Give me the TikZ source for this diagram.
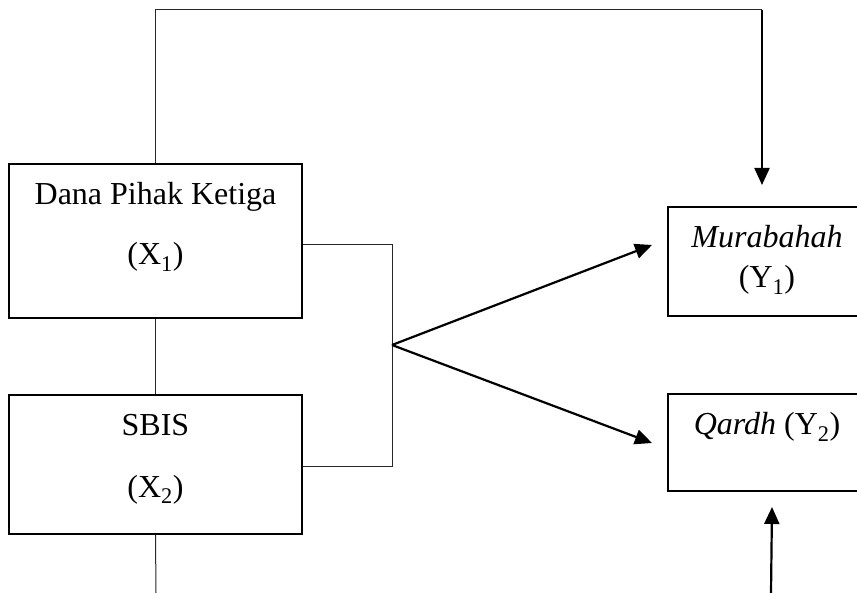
\documentclass[tikz,border=0pt]{standalone}
\usepackage{fontspec}
\setmainfont{Liberation Serif}
\usetikzlibrary{arrows.meta, positioning}

\begin{document}
\begin{tikzpicture}[x=1pt, y=-1pt, font=\fontsize{32}{38}\selectfont, thin,
                    main/.style = {draw, line width=2.4pt, rectangle, align=center, inner xsep=0pt, inner ysep=0pt},
                    link/.style = {line width=1pt, black!85},
                    arr/.style = {-{Triangle[length=17pt, width=15pt]}, line width=2.2pt}]
                    \useasboundingbox (0,0) rectangle (857,593);
                    \node[main, minimum width=293pt, text height=101pt, text depth=53pt] (x1) at (155.5,241) {Dana Pihak Ketiga\\[22pt](X\textsubscript{1})};
                    \node[main, minimum width=293pt, text height=102pt, text depth=37pt] (x2) [below of=x1, node distance=223.5pt] {SBIS\\[24pt](X\textsubscript{2})};
                    \node[main, minimum width=198pt, text height=81pt, text depth=28pt] (y1) at (767,261.5) {\textit{Murabahah}\\[2pt](Y\textsubscript{1})};
                    \node[main, minimum width=198pt, text height=41pt, text depth=56pt] (y2) [below of=y1, node distance=181pt] {\textit{Qardh} (Y\textsubscript{2})};
                    \coordinate (top) at (762,10);
                    \coordinate (t1) at (762,185);
                    \coordinate (hub) at (392,345);
                    \coordinate (a1) at (652,245);
                    \coordinate (a2) at (652,443);
                    \coordinate (bot) at (156,593);
                    \coordinate (b1) at (771,593);
                    \coordinate (b2) at (772,507);
                    \draw[link] (x1.north) |- (top);
                    \draw[arr] (top) -- (t1);
                    \draw[link] (x1.south) -- (x2.north);
                    \draw[link] (x2.south) -- (bot);
                    \draw[link] ([yshift=-4pt]x1.east) -| (hub);
                    \draw[link] ([yshift=-1.5pt]x2.east) -| (hub);
                    \draw[arr] (hub) -- (a1);
                    \draw[arr] (hub) -- (a2);
                    \draw[arr] (b1) -- (b2);
                \end{tikzpicture}
\end{document}
